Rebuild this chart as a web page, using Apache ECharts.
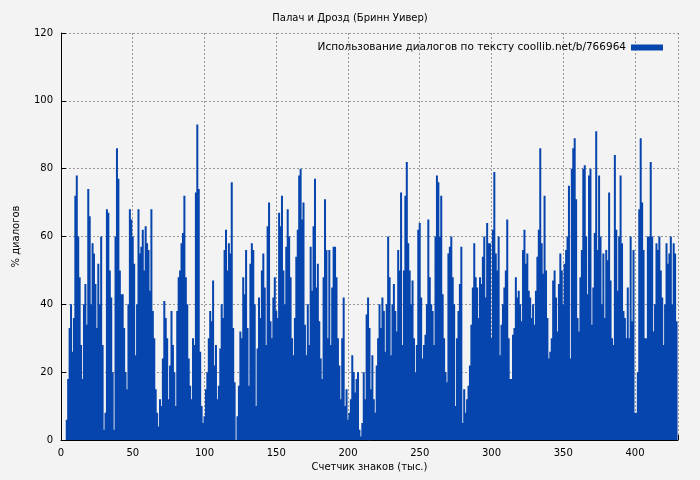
<!DOCTYPE html>
<html lang="ru">
  <head>
    <meta charset="UTF-8" />
    <title>Палач и Дрозд</title>
    <style>
      html, body { margin: 0; padding: 0; background: #f3f3f3; }
      #chart { width: 700px; height: 480px; }
    </style>
  </head>
  <body>
    <div id="chart"></div>
    <script src="https://cdn.jsdelivr.net/npm/echarts@6/dist/echarts.min.js"></script>
    <script>
      const titleText = 'Палач и Дрозд (Бринн Уивер)';
      const seriesName = 'Использование диалогов по тексту coollib.net/b/766964';
      const xTicks = [0, 50, 100, 150, 200, 250, 300, 350, 400];
      const yTicks = [0, 20, 40, 60, 80, 100, 120];
      // % диалогов на каждую тысячу знаков
      const dialogPct = [
        0,0,0,0,6,18,33,40,26,36,
        72,78,60,48,28,18,40,46,34,74,
        66,40,58,55,46,33,52,40,60,28,
        3,8,68,67,50,42,20,3,60,86,
        77,50,43,43,33,20,15,40,68,65,
        60,52,25,40,68,55,57,62,50,63,
        58,56,44,68,38,30,15,8,4,12,
        10,24,41,36,30,12,22,38,28,20,
        10,38,48,50,58,61,72,48,40,24,
        16,12,30,28,73,93,74,26,10,5,
        7,15,20,30,38,35,47,22,28,12,
        16,27,40,36,56,62,50,58,55,76,
        33,17,0,7,16,32,30,48,43,56,
        33,16,52,58,56,40,10,27,42,36,
        50,55,45,28,63,70,35,30,42,48,
        38,36,67,63,72,50,40,57,68,60,
        48,30,25,36,54,62,78,80,65,70,
        34,25,40,28,57,44,63,77,45,52,
        35,24,18,48,71,56,30,56,28,45,
        57,57,48,30,22,12,30,42,10,15,
        6,8,12,25,20,14,18,20,3,1,
        5,20,12,37,42,33,15,25,12,8,
        22,30,40,33,42,38,26,40,60,48,
        25,40,46,38,32,56,50,73,28,50,
        72,82,58,50,40,47,30,20,28,62,
        64,42,24,28,31,40,65,48,40,38,
        28,60,78,76,60,72,43,30,20,17,
        55,57,60,48,40,10,30,38,46,57,
        5,15,8,12,16,22,34,45,58,48,
        45,36,48,46,54,60,42,64,58,58,
        30,62,79,55,50,60,25,34,40,45,
        50,65,30,18,18,31,33,48,42,44,
        40,35,56,62,52,55,44,42,36,40,
        34,44,54,62,86,58,49,72,50,36,
        24,26,30,47,50,42,32,46,55,50,
        40,52,56,60,75,24,80,86,89,71,
        36,32,48,56,80,81,60,43,78,80,
        34,45,61,91,56,78,60,40,55,36,
        56,53,73,47,30,28,84,62,44,60,
        78,58,38,36,30,45,30,60,35,56,
        8,8,20,68,89,70,56,30,30,60,
        60,82,60,32,40,58,56,60,50,42,
        28,40,58,52,55,60,40,58,55,35
      ];

      const chart = echarts.init(document.getElementById('chart'));
      const font = 'DejaVu Sans';
      chart.setOption({
        backgroundColor: '#f3f3f3',
        animation: false,
        title: {
          text: titleText, left: 'center', top: 8,
          textStyle: { fontSize: 10, fontWeight: 'normal', color: '#000', fontFamily: font }
        },
        legend: {
          data: [seriesName], right: 32, top: 37, itemWidth: 32, itemHeight: 6, itemGap: 8,
          icon: 'rect', align: 'right',
          textStyle: { fontSize: 10.5, color: '#000', fontFamily: font }
        },
        grid: { left: 61, right: 22, top: 33, bottom: 40 },
        xAxis: {
          type: 'value', min: 0, max: 430, interval: 50,
          name: 'Счетчик знаков (тыс.)', nameLocation: 'middle', nameGap: 22,
          nameTextStyle: { fontSize: 10, color: '#000', fontFamily: font },
          axisLine: { lineStyle: { color: '#000' } },
          axisTick: { inside: true, lineStyle: { color: '#000' } },
          axisLabel: {
            fontSize: 10, color: '#000', fontFamily: font,
            formatter: v => (xTicks.includes(v) ? String(v) : '')
          },
          splitLine: { show: true, lineStyle: { type: [2, 2], color: '#999' } }
        },
        yAxis: {
          type: 'value', min: 0, max: 120, interval: 20,
          name: '% диалогов', nameLocation: 'middle', nameGap: 40,
          nameTextStyle: { fontSize: 10, color: '#000', fontFamily: font },
          axisLine: { show: true, lineStyle: { color: '#000' } },
          axisTick: { show: true, inside: true, lineStyle: { color: '#000' } },
          axisLabel: {
            fontSize: 10, color: '#000', fontFamily: font,
            formatter: v => (yTicks.includes(v) ? String(v) : '')
          },
          splitLine: { show: true, lineStyle: { type: [2, 2], color: '#999' } }
        },
        series: [{
          name: seriesName, type: 'bar', barWidth: 2,
          large: true, largeThreshold: 100,
          itemStyle: { color: '#0645ad' },
          data: dialogPct.map((v, i) => [i, v])
        }]
      });
    </script>
  </body>
</html>
